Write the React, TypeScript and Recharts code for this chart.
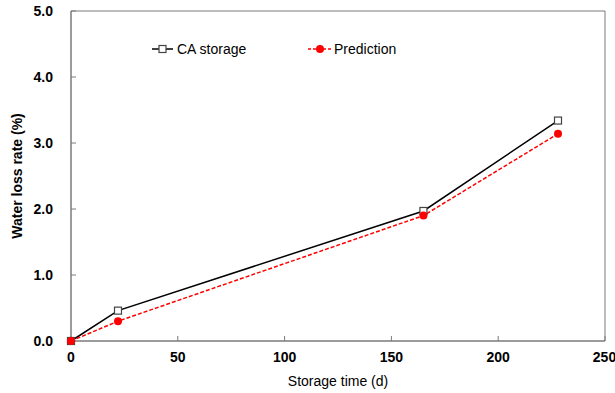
import { LineChart, Line, XAxis, YAxis, Legend, Label, ReferenceArea } from "recharts";

const storageDays = [0, 22, 165, 228];
const caStorage = [0, 0.46, 1.97, 3.34];
const prediction = [0, 0.3, 1.9, 3.14];
const xTicks = [0, 50, 100, 150, 200, 250];
const yTicks = [0, 1, 2, 3, 4, 5];

const data = storageDays.map((d, i) => ({ day: d, ca: caStorage[i], pred: prediction[i] }));

const font = "'Liberation Sans', Arial, sans-serif";
const axisColor = "#7a7a7a";
const tickStyle = { fontSize: 14, fontWeight: 700, fill: "#000", fontFamily: font };

const SquareDot = (props: any) => {
    const { cx, cy, index } = props;
    if (cx == null || cy == null) return <g key={index} />;
    return <rect key={index} x={cx - 3.5} y={cy - 3.5} width={7} height={7} fill="#fff" stroke="#444" strokeWidth={1.2} />;
};

const LegendBox = () => (
    <svg width={260} height={20} style={{ overflow: "visible", display: "block" }}>
        <line x1={2} y1={10} x2={23} y2={10} stroke="#000" strokeWidth={1.5} />
        <rect x={9} y={6.5} width={7} height={7} fill="#fff" stroke="#444" strokeWidth={1.2} />
        <text x={27} y={15} fontSize={14} fontFamily={font} fill="#000">CA storage</text>
        <line x1={158} y1={10} x2={181} y2={10} stroke="#ff0000" strokeWidth={1.5} strokeDasharray="3 2" />
        <circle cx={170} cy={10} r={4} fill="#ff0000" />
        <text x={184} y={15} fontSize={14} fontFamily={font} fill="#000">Prediction</text>
    </svg>
);

export default function App() {
    return (
        <div style={{ position: "absolute", left: 0, top: 0, background: "#fff" }}>
            <LineChart width={615} height={393} data={data} margin={{ top: 11, right: 10, left: 0, bottom: 0 }}>
                <XAxis
                    dataKey="day" type="number" domain={[0, 250]} ticks={xTicks}
                    height={52} tickSize={-5} tickMargin={16} tick={tickStyle}
                    stroke={axisColor} tickLine={{ stroke: axisColor }}
                >
                    <Label
                        content={(p: any) => {
                            const vb = p.viewBox;
                            return (
                                <text x={vb.x + vb.width / 2} y={386} textAnchor="middle" fontSize={14} fontFamily={font} fill="#000">
                                    Storage time (d)
                                </text>
                            );
                        }}
                    />
                </XAxis>
                <YAxis
                    type="number" domain={[0, 5]} ticks={yTicks} width={71}
                    tickSize={-5} tickMargin={23} tick={tickStyle}
                    tickFormatter={(v: number) => v.toFixed(1)}
                    stroke={axisColor} tickLine={{ stroke: axisColor }}
                >
                    <Label
                        content={(p: any) => {
                            const vb = p.viewBox;
                            const cx = 17;
                            const cy = vb.y + vb.height / 2;
                            return (
                                <text x={cx} y={cy} transform={`rotate(-90 ${cx} ${cy})`} textAnchor="middle" dominantBaseline="central" fontSize={14} fontWeight={700} fontFamily={font} fill="#000">
                                    Water loss rate (%)
                                </text>
                            );
                        }}
                    />
                </YAxis>
                <ReferenceArea x1={0} x2={250} y1={0} y2={5} fill="none" stroke={axisColor} strokeWidth={1} ifOverflow="visible" />
                <Legend
                    layout="horizontal" verticalAlign="middle" align="center"
                    content={<LegendBox />}
                    wrapperStyle={{ position: "absolute", left: 150, top: 39, width: 260 }}
                />
                <Line
                    dataKey="ca" type="linear" stroke="#000" strokeWidth={1.5}
                    dot={SquareDot} activeDot={false} isAnimationActive={false}
                />
                <Line
                    dataKey="pred" type="linear" stroke="#ff0000" strokeWidth={1.5} strokeDasharray="4 2"
                    dot={{ r: 4, fill: "#ff0000", stroke: "#ff0000", strokeWidth: 0 }} activeDot={false} isAnimationActive={false}
                />
            </LineChart>
        </div>
    );
}
